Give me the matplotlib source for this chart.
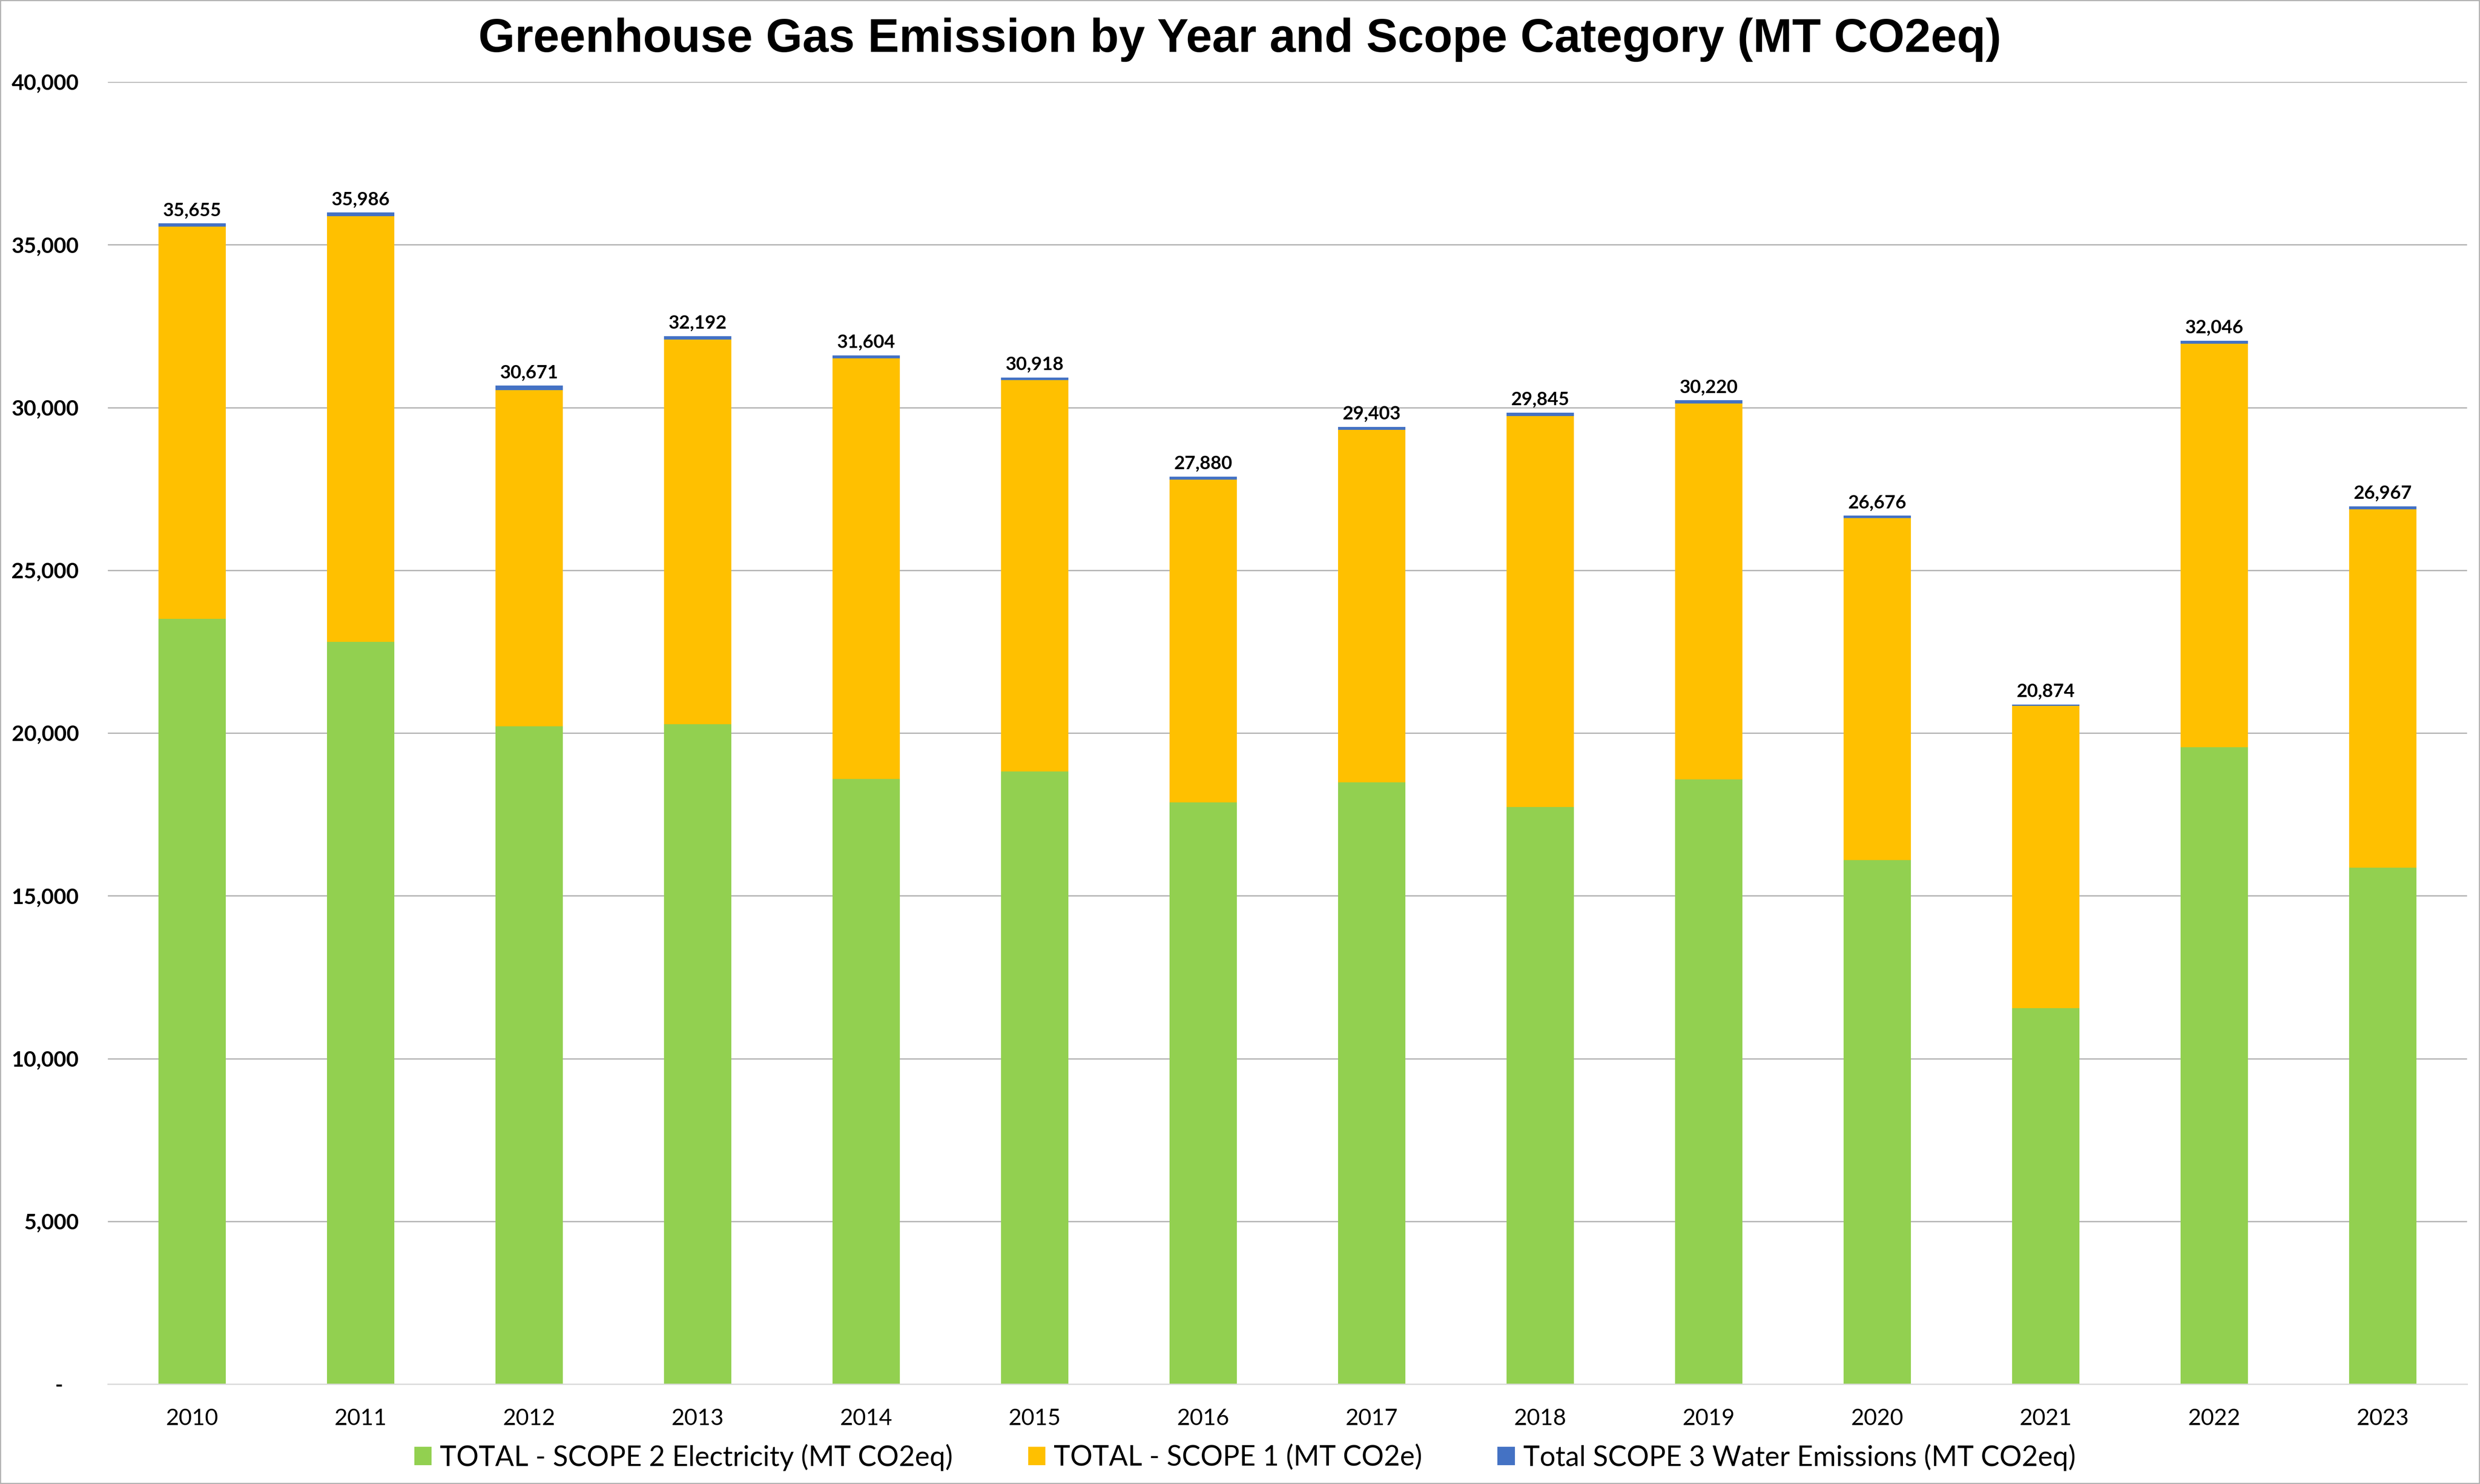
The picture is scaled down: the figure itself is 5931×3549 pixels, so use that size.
import matplotlib.pyplot as plt
from matplotlib.patches import Rectangle

# data
years = ["2010", "2011", "2012", "2013", "2014", "2015", "2016",
         "2017", "2018", "2019", "2020", "2021", "2022", "2023"]
scope2 = [23510, 22800, 20210, 20275, 18590, 18820, 17870,
          18490, 17720, 18580, 16090, 11550, 19560, 15870]
scope1 = [12045, 13079, 10321, 11818, 12920, 12016, 9911,
          10819, 12022, 11537, 10509, 9279, 12396, 11007]
scope3 = [100, 107, 140, 99, 94, 82, 99,
          94, 103, 103, 77, 45, 90, 90]
totals = [35655, 35986, 30671, 32192, 31604, 30918, 27880,
          29403, 29845, 30220, 26676, 20874, 32046, 26967]

series_names = ["TOTAL - SCOPE 2 Electricity (MT CO2eq)",
                "TOTAL - SCOPE 1 (MT CO2e)",
                "Total SCOPE 3 Water Emissions (MT CO2eq)"]
colors = ["#92D050", "#FFC000", "#4472C4"]

W, H, DPI = 5931, 3549, 100
fig = plt.figure(figsize=(W / DPI, H / DPI), dpi=DPI)
ax = fig.add_axes([258 / W, 1 - 3310 / H, (5900 - 258) / W, (3310 - 196) / H])

x = list(range(len(years)))
bw = 0.4
bottom1 = scope2
bottom3 = [a + b for a, b in zip(scope2, scope1)]
ax.bar(x, scope2, bw, color=colors[0], label=series_names[0], zorder=3)
ax.bar(x, scope1, bw, bottom=bottom1, color=colors[1], label=series_names[1], zorder=3)
ax.bar(x, scope3, bw, bottom=bottom3, color=colors[2], label=series_names[2], zorder=3)

# total labels on top of each stack
for xi, t in zip(x, totals):
    ax.annotate(f"{t:,}", (xi, t), xytext=(0, 13), textcoords="offset points",
                ha="center", va="baseline", fontsize=32, fontweight="bold",
                family="Lato", color="black")

ax.set_xlim(-0.5, len(years) - 0.5)
ax.set_ylim(0, 40000)
yt = list(range(0, 40001, 5000))
ax.set_yticks(yt)
ax.set_yticklabels(["-   "] + [f"{v:,}" for v in yt[1:]], fontsize=37,
                   fontweight="bold", family="Lato")
ax.set_xticks(x)
ax.set_xticklabels(years, fontsize=39, family="Lato")
ax.tick_params(axis="y", length=0, pad=50)
ax.tick_params(axis="x", length=0, pad=42)

ax.grid(axis="y", color="#B3B3B3", lw=2.2, zorder=0)
for s in ["top", "right", "left"]:
    ax.spines[s].set_visible(False)
ax.spines["bottom"].set_color("#D9D9D9")
ax.spines["bottom"].set_linewidth(2.2)
ax.spines["bottom"].set_zorder(4)

fig.text(0.5, 1 - 124 / H, "Greenhouse Gas Emission by Year and Scope Category (MT CO2eq)",
         ha="center", va="baseline", fontsize=81, fontweight="bold",
         family="Liberation Sans")

fig.legend(loc="center", bbox_to_anchor=(0.502, 0.018), ncol=3, frameon=False,
           prop={"family": "Lato", "size": 48}, handlelength=0.62, handleheight=0.62,
           handletextpad=0.3, columnspacing=2.7, borderaxespad=0)

# chart area border
fig.patches.append(Rectangle((0, 0), 1, 1, transform=fig.transFigure, fill=False,
                             edgecolor="#B3B3B3", lw=4))

fig.savefig("out.png", dpi=DPI, facecolor="white")
